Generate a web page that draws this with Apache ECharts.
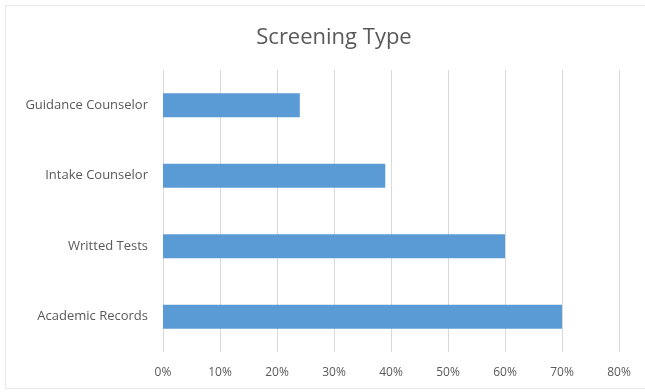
<!DOCTYPE html>
<html>
<head>
<meta charset="utf-8">
<script src="https://cdn.jsdelivr.net/npm/echarts@6/dist/echarts.min.js"></script>
<style>
  html, body { margin: 0; padding: 0; background: #fff; overflow: hidden; }
  #frame { position: absolute; left: 5px; top: 5px; width: 660px; height: 384px; border: 1px solid #e8e8e8; box-sizing: border-box; }
  #chart { position: absolute; left: 0; top: 0; width: 645px; height: 392px; }
</style>
</head>
<body>
<div id="frame"></div>
<div id="chart"></div>
<script>
const categories = ['Guidance Counselor', 'Intake Counselor', 'Writted Tests', 'Academic Records']
const values = [24, 39, 60, 70]
const tickMax = 80
const tickStep = 10

const chart = echarts.init(document.getElementById('chart'), null, { renderer: 'canvas' })
const font = '"Open Sans", sans-serif'

chart.setOption({
  backgroundColor: 'transparent',
  animation: false,
  title: {
    text: 'Screening Type',
    left: 329,
    top: 22,
    textAlign: 'center',
    textStyle: { color: '#595959', fontSize: 22, fontWeight: 'normal', fontFamily: font },
  },
  grid: { left: 163, right: 26, top: 70, bottom: 40, containLabel: false },
  xAxis: {
    type: 'value',
    min: 0,
    max: tickMax,
    interval: tickStep,
    axisLabel: { formatter: '{value}%', color: '#595959', fontSize: 12, fontFamily: font, margin: 15 },
    axisLine: { show: false },
    axisTick: { show: false },
    splitLine: { lineStyle: { color: '#d9d9d9', width: 1 } },
  },
  yAxis: {
    type: 'category',
    inverse: true,
    data: categories,
    axisLabel: { color: '#595959', fontSize: 13, fontFamily: font, margin: 15 },
    axisLine: { show: false },
    axisTick: { show: false },
  },
  series: [{
    type: 'bar',
    data: values,
    barWidth: 24,
    itemStyle: { color: '#5b9bd5' },
  }],
})
</script>
</body>
</html>
